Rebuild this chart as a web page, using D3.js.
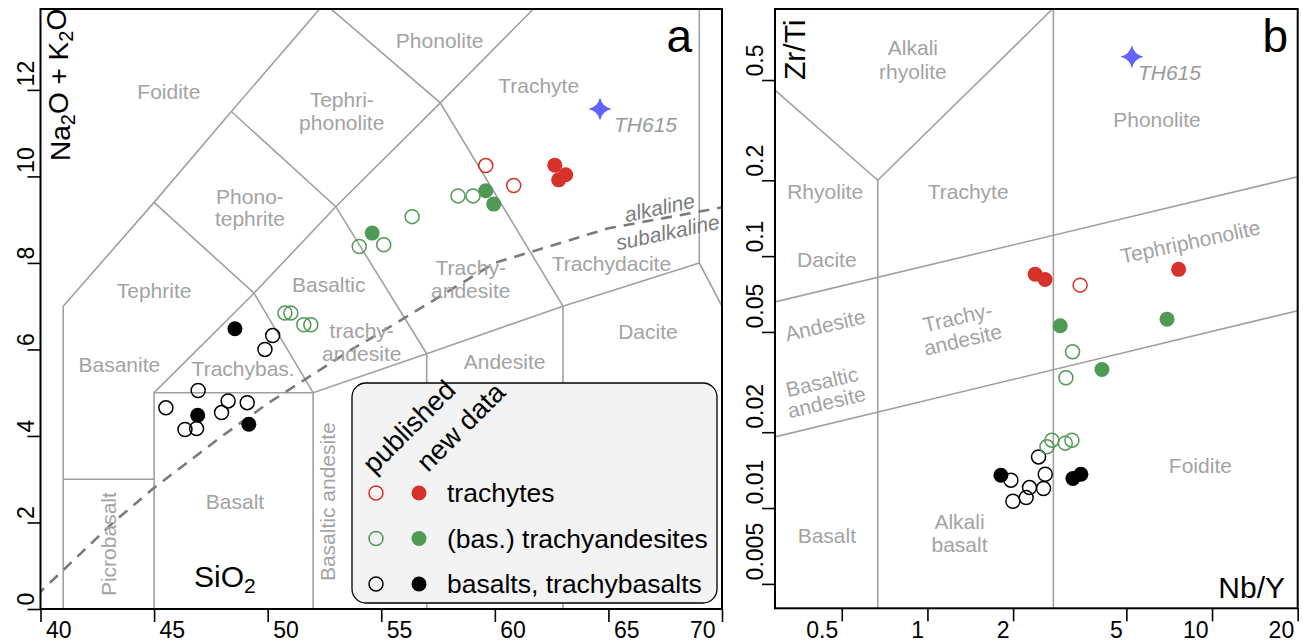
<!DOCTYPE html>
<html lang="en">
<head>
<meta charset="UTF-8">
<title>TAS and Nb/Y - Zr/Ti classification</title>
<script src="https://d3js.org/d3.v7.min.js"></script>
<style>
    body { margin: 0; background: #fff; }
    svg { display: block; font-family: "Liberation Sans", Arial, sans-serif; }
    .field { fill: none; stroke: #a0a0a0; stroke-width: 1.6; }
    .fieldLabel { fill: #a3a3a3; font-size: 21px; }
    .tick line { stroke: #000; stroke-width: 1.6; }
    .tick text { font-size: 23px; fill: #000; }
</style>
</head>
<body>
<script>
// ---- colours
const red = "#d6322a";
const green = "#4f9a55";
const black = "#000";
const starBlue = "#6262ff";

// ---- panel a: TAS (SiO2 vs Na2O+K2O)
const tasPubTrachyte = [[59.6, 10.25], [60.83, 9.79]];
const tasNewTrachyte = [[62.64, 10.26], [63.12, 10.04], [62.81, 9.92]];
const tasPubTrachyandesite = [[58.38, 9.55], [59.04, 9.55], [56.36, 9.07], [54.03, 8.38], [55.11, 8.42],
    [50.76, 6.84], [51.02, 6.84], [51.59, 6.57], [51.9, 6.57]];
const tasNewTrachyandesite = [[59.6, 9.67], [59.95, 9.36], [54.6, 8.69]];
const tasPubBasalt = [[50.22, 6.32], [49.88, 6.0], [46.94, 5.05], [45.52, 4.65], [48.26, 4.81],
    [47.97, 4.54], [49.1, 4.77], [46.36, 4.15], [46.87, 4.17]];
const tasNewBasalt = [[48.56, 6.48], [46.92, 4.48], [49.17, 4.27]];
const tasTH615 = [64.63, 11.56];

const tasXTicks = [40, 45, 50, 55, 60, 65, 70];
const tasYTicks = [0, 2, 4, 6, 8, 10, 12];

// field boundaries (Le Bas et al. 1986)
const tasFields = [
    [[41, 0], [41, 7], [45, 9.4], [48.4, 11.5], [52.5, 14]],
    [[41, 3], [45, 3]],
    [[45, 0], [45, 5], [49.4, 7.3], [52, 5]],
    [[45, 5], [52, 5], [57, 5.9], [63, 7], [69, 8]],
    [[52, 0], [52, 5]],
    [[57, 0], [57, 5.9]],
    [[63, 0], [63, 7]],
    [[45, 9.4], [49.4, 7.3], [53, 9.3], [57.6, 11.7], [61, 13.5], [62, 14.03]],
    [[48.4, 11.5], [53, 9.3], [57, 5.9]],
    [[52.5, 14], [57.6, 11.7], [63, 7]],
    [[69, 14], [69, 8], [77, 0]]
];
// alkaline / subalkaline divide (Irvine & Baragar 1971)
const irvineSi = [39.2, 40, 43.2, 45, 48, 50, 53.7, 55, 60, 65, 77.4];
const irvineAlk = [0, 0.4, 2, 2.8, 4, 4.75, 6, 6.4, 8, 8.8, 10];

const tasLabels = [
    { t: ["Foidite"], x: 45.65, y: 11.97 },
    { t: ["Tephri-", "phonolite"], x: 53.26, y: 11.5 },
    { t: ["Phonolite"], x: 57.57, y: 13.15 },
    { t: ["Trachyte"], x: 61.93, y: 12.09 },
    { t: ["Phono-", "tephrite"], x: 49.22, y: 9.28, lh: 22 },
    { t: ["Tephrite"], x: 45.0, y: 7.37 },
    { t: ["Basaltic"], x: 52.69, y: 7.49 },
    { t: ["trachy-", "andesite"], x: 54.14, y: 6.18 },
    { t: ["Trachy-", "andesite"], x: 58.94, y: 7.62 },
    { t: ["Trachydacite"], x: 65.13, y: 7.99 },
    { t: ["Trachybas."], x: 48.92, y: 5.56 },
    { t: ["Basanite"], x: 43.47, y: 5.64 },
    { t: ["Dacite"], x: 66.74, y: 6.41 },
    { t: ["Andesite"], x: 60.43, y: 5.72 },
    { t: ["Basalt"], x: 48.56, y: 2.48 },
    { t: ["Picrobasalt"], x: 42.98, y: 1.5, rot: -90 },
    { t: ["Basaltic andesite"], x: 52.66, y: 2.48, rot: -90 }
];

// ---- panel b: Nb/Y vs Zr/Ti
const wfPubTrachyte = [[3.44, 0.0767]];
const wfNewTrachyte = [[2.39, 0.0848], [2.59, 0.0808], [7.63, 0.0886]];
const wfPubTrachyandesite = [[3.235, 0.0417], [3.066, 0.0329], [2.63, 0.0175], [2.737, 0.0186],
    [3.05, 0.0181], [3.219, 0.0186]];
const wfNewTrachyandesite = [[2.928, 0.0529], [6.947, 0.0562], [4.104, 0.0355]];
const wfPubBasalt = [[2.457, 0.01596], [2.594, 0.01362], [2.558, 0.01196], [2.284, 0.01206],
    [2.223, 0.011], [1.997, 0.01064], [1.965, 0.0129]];
const wfNewBasalt = [[1.812, 0.0135], [3.245, 0.0131], [3.462, 0.01362]];
const wfTH615 = [5.23, 0.6186];

const wfXTicks = [0.5, 1, 2, 5, 10, 20];
const wfYTicks = [0.005, 0.01, 0.02, 0.05, 0.1, 0.2, 0.5];

const wfFields = [
    [[0.669, 0.004], [0.669, 0.2]],
    [[0.2913, 0.456], [0.669, 0.2], [2.75, 0.957]],
    [[2.77, 0.004], [2.77, 0.957]],
    [[0.2913, 0.0658], [20, 0.2065]],
    [[0.2913, 0.01916], [20, 0.0607]]
];

const wfLabels = [
    { t: ["Alkali", "rhyolite"], x: 0.889, y: 0.6005, lh: 24 },
    { t: ["Rhyolite"], x: 0.437, y: 0.18 },
    { t: ["Trachyte"], x: 1.39, y: 0.18 },
    { t: ["Dacite"], x: 0.443, y: 0.0964 },
    { t: ["Phonolite"], x: 6.407, y: 0.3469 },
    { t: ["Tephriphonolite"], x: 8.39, y: 0.114, rot: -12 },
    { t: ["Andesite"], x: 0.437, y: 0.0532, rot: -13 },
    { t: ["Trachy-", "andesite"], x: 1.303, y: 0.0516, rot: -13 },
    { t: ["Basaltic", "andesite"], x: 0.434, y: 0.0289, rot: -13, lh: 21 },
    { t: ["Basalt"], x: 0.443, y: 0.0078 },
    { t: ["Alkali", "basalt"], x: 1.296, y: 0.00792 },
    { t: ["Foidite"], x: 9.1, y: 0.01479 }
];

const groups = [
    { name: "trachytes", color: red },
    { name: "(bas.) trachyandesites", color: green },
    { name: "basalts, trachybasalts", color: black }
];

// ---- svg
const svg = d3.select("body").append("svg")
    .attr("width", 1303)
    .attr("height", 643);

const xA = d3.scaleLinear().domain([40, 70]).range([40.5, 722]);
const yA = d3.scaleLinear().domain([0, 13.87]).range([609, 9]);
const xB = d3.scaleLog().domain([0.2913, 20]).range([775, 1297.7]);
const yB = d3.scaleLog().domain([0.004, 0.957]).range([608.3, 9]);

const starPath = "M0,-11.5 Q2.2,-2.2 11.5,0 Q2.2,2.2 0,11.5 Q-2.2,2.2 -11.5,0 Q-2.2,-2.2 0,-11.5 Z";

function drawPanel(opt) {
    const { x, y, id } = opt;
    const [x0, x1] = x.range();
    const [y1, y0] = y.range();
    const g = svg.append("g");

    g.append("clipPath").attr("id", "clip-" + id)
        .append("rect")
        .attr("x", x0).attr("y", y0)
        .attr("width", x1 - x0).attr("height", y1 - y0);

    const plot = g.append("g").attr("clip-path", `url(#clip-${id})`);
    const line = d3.line().x(d => x(d[0])).y(d => y(d[1]));

    plot.selectAll("path.field")
        .data(opt.fields)
        .join("path")
        .attr("class", "field")
        .attr("d", line);

    if (opt.dashed) {
        plot.append("path")
            .attr("d", line(opt.dashed))
            .attr("fill", "none")
            .attr("stroke", "#7b7b7b")
            .attr("stroke-width", 2.6)
            .attr("stroke-dasharray", "11,8");
    }

    // field names
    opt.labels.forEach(l => {
        const lh = l.lh || 23;
        const lg = plot.append("g")
            .attr("transform", `translate(${x(l.x)},${y(l.y)}) rotate(${l.rot || 0})`);
        l.t.forEach((s, i) => {
            lg.append("text")
                .attr("class", "fieldLabel")
                .attr("text-anchor", "middle")
                .attr("y", (i - (l.t.length - 1) / 2) * lh)
                .attr("dy", "0.35em")
                .text(s);
        });
    });

    // samples
    const sets = [
        [opt.pub[2], opt.new[2], black],
        [opt.pub[1], opt.new[1], green],
        [opt.pub[0], opt.new[0], red]
    ];
    sets.forEach(([pub, neu, c]) => {
        plot.append("g").selectAll("circle")
            .data(pub).join("circle")
            .attr("cx", d => x(d[0])).attr("cy", d => y(d[1]))
            .attr("r", 7)
            .attr("fill", "none")
            .attr("stroke", c)
            .attr("stroke-width", 1.5);
        plot.append("g").selectAll("circle")
            .data(neu).join("circle")
            .attr("cx", d => x(d[0])).attr("cy", d => y(d[1]))
            .attr("r", 7.5)
            .attr("fill", c);
    });

    // TH615
    plot.append("path")
        .attr("d", starPath)
        .attr("transform", `translate(${x(opt.star[0])},${y(opt.star[1])})`)
        .attr("fill", starBlue);
    plot.append("text")
        .attr("x", x(opt.star[0]) + opt.starDx)
        .attr("y", y(opt.star[1]) + 23)
        .attr("fill", "#999")
        .attr("font-size", 21)
        .attr("font-style", "italic")
        .text("TH615");

    // axes
    const ax = g.append("g")
        .attr("transform", `translate(0,${y1})`)
        .call(d3.axisBottom(x).tickValues(opt.xTicks).tickFormat(d => String(d))
            .tickSize(13).tickSizeOuter(0));
    ax.select(".domain").remove();
    ax.selectAll(".tick text")
        .attr("y", 13)
        .attr("dy", "0.71em")
        .attr("x", opt.xLabelX)
        .attr("text-anchor", opt.xLabelAnchor);

    const ay = g.append("g")
        .attr("transform", `translate(${x0},0)`)
        .call(d3.axisLeft(y).tickValues(opt.yTicks).tickFormat(d => String(d))
            .tickSize(13).tickSizeOuter(0));
    ay.select(".domain").remove();
    ay.selectAll(".tick text")
        .attr("transform", "rotate(-90)")
        .attr("x", 4)
        .attr("y", opt.yLabelY)
        .attr("dy", 0)
        .attr("text-anchor", "start");

    // frame
    g.append("rect")
        .attr("x", x0).attr("y", y0)
        .attr("width", x1 - x0).attr("height", y1 - y0)
        .attr("fill", "none")
        .attr("stroke", "#000")
        .attr("stroke-width", 2);

    return { g, x0, x1, y0, y1 };
}

// panel a
const pa = drawPanel({
    id: "a", x: xA, y: yA,
    fields: tasFields,
    dashed: irvineSi.map((d, i) => [d, irvineAlk[i]]),
    labels: tasLabels,
    pub: [tasPubTrachyte, tasPubTrachyandesite, tasPubBasalt],
    new: [tasNewTrachyte, tasNewTrachyandesite, tasNewBasalt],
    star: tasTH615, starDx: 14,
    xTicks: tasXTicks, yTicks: tasYTicks,
    xLabelX: d => d === 70 ? -7 : 5,
    xLabelAnchor: d => d === 70 ? "end" : "start",
    yLabelY: -7
});

// alkaline / subalkaline tags
[["alkaline", 67.25, 9.28], ["subalkaline", 67.61, 8.71]].forEach(([s, sx, sy]) => {
    pa.g.append("text")
        .attr("transform", `translate(${xA(sx)},${yA(sy)}) rotate(-12)`)
        .attr("text-anchor", "middle")
        .attr("dy", "0.35em")
        .attr("fill", "#7b7b7b")
        .attr("font-size", 21)
        .attr("font-style", "italic")
        .text(s);
});

// axis titles panel a
const naK = pa.g.append("text")
    .attr("transform", `translate(70,161) rotate(-90)`)
    .attr("font-size", 28);
naK.append("tspan").text("Na");
naK.append("tspan").attr("dy", "0.25em").attr("font-size", 20).text("2");
naK.append("tspan").attr("dy", "-0.25em").text("O + K");
naK.append("tspan").attr("dy", "0.25em").attr("font-size", 20).text("2");
naK.append("tspan").attr("dy", "-0.25em").text("O");

const si = pa.g.append("text")
    .attr("x", 194).attr("y", 587)
    .attr("font-size", 30);
si.append("tspan").text("SiO");
si.append("tspan").attr("dy", "0.3em").attr("font-size", 21).text("2");

pa.g.append("text")
    .attr("x", 692).attr("y", 52)
    .attr("text-anchor", "end")
    .attr("font-size", 46)
    .text("a");

// legend
const leg = pa.g.append("g");
leg.append("rect")
    .attr("x", 352).attr("y", 383)
    .attr("width", 365).attr("height", 220)
    .attr("rx", 14)
    .attr("fill", "#f3f3f3")
    .attr("stroke", "#000")
    .attr("stroke-width", 1.3);
leg.append("text")
    .attr("transform", "translate(374,475) rotate(-45)")
    .attr("font-size", 27.5)
    .text("published");
leg.append("text")
    .attr("transform", "translate(428,473) rotate(-45)")
    .attr("font-size", 27.5)
    .text("new data");
groups.forEach((gr, i) => {
    const cy = 493 + i * 45.5;
    leg.append("circle").attr("cx", 376).attr("cy", cy).attr("r", 7)
        .attr("fill", "none").attr("stroke", gr.color).attr("stroke-width", 1.5);
    leg.append("circle").attr("cx", 419).attr("cy", cy).attr("r", 7.5)
        .attr("fill", gr.color);
    leg.append("text")
        .attr("x", 447).attr("y", cy)
        .attr("dy", "0.35em")
        .attr("font-size", 26.5)
        .text(gr.name);
});

// panel b
const pb = drawPanel({
    id: "b", x: xB, y: yB,
    fields: wfFields,
    labels: wfLabels,
    pub: [wfPubTrachyte, wfPubTrachyandesite, wfPubBasalt],
    new: [wfNewTrachyte, wfNewTrachyandesite, wfNewBasalt],
    star: wfTH615, starDx: 6,
    xTicks: wfXTicks, yTicks: wfYTicks,
    xLabelX: -4,
    xLabelAnchor: "end",
    yLabelY: -12
});

pb.g.append("text")
    .attr("transform", "translate(805,80) rotate(-90)")
    .attr("font-size", 30)
    .text("Zr/Ti");

pb.g.append("text")
    .attr("x", 1285).attr("y", 598)
    .attr("text-anchor", "end")
    .attr("font-size", 30)
    .text("Nb/Y");

pb.g.append("text")
    .attr("x", 1288).attr("y", 52)
    .attr("text-anchor", "end")
    .attr("font-size", 46)
    .text("b");
</script>
</body>
</html>
